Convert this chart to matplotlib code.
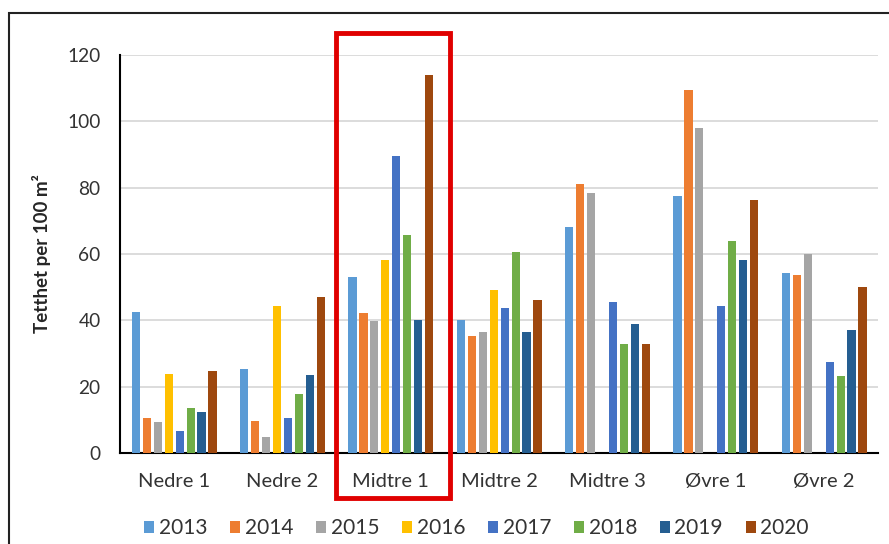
import numpy as np
import matplotlib
matplotlib.use('Agg')
import matplotlib.pyplot as plt
from matplotlib.patches import Rectangle
from matplotlib.transforms import blended_transform_factory

plt.rcParams['font.family'] = ['Lato', 'DejaVu Sans']

sites = ['Nedre 1', 'Nedre 2', 'Midtre 1', 'Midtre 2', 'Midtre 3', 'Øvre 1', 'Øvre 2']
years = ['2013', '2014', '2015', '2016', '2017', '2018', '2019', '2020']

# density per year, one value per site (nan = not sampled)
d2013 = [42.5, 25.5, 53.0, 40.0, 68.3, 77.5, 54.3]
d2014 = [10.5, 9.6, 42.1, 35.2, 81.0, 109.4, 53.8]
d2015 = [9.3, 4.9, 39.8, 36.4, 78.3, 97.9, 60.0]
d2016 = [23.8, 44.4, 58.2, 49.3, np.nan, np.nan, np.nan]
d2017 = [6.6, 10.6, 89.6, 43.6, 45.6, 44.4, 27.5]
d2018 = [13.7, 17.7, 65.8, 60.7, 33.0, 64.0, 23.3]
d2019 = [12.3, 23.5, 40.1, 36.4, 38.8, 58.2, 37.2]
d2020 = [24.7, 47.1, 114.0, 46.3, 33.0, 76.3, 50.0]

series = [d2013, d2014, d2015, d2016, d2017, d2018, d2019, d2020]
colors = ['#5B9BD5', '#ED7D31', '#A5A5A5', '#FFC000',
          '#4472C4', '#70AD47', '#255E91', '#9E480E']

fig = plt.figure(figsize=(8.89, 5.44), dpi=100)
ax = fig.add_axes([0.135, 0.167, 0.853, 0.732])

x = np.arange(len(sites))
slot = 0.101
width = 0.075
for i, (vals, yr) in enumerate(zip(series, years)):
    ax.bar(x + (i - 3.5) * slot, vals, width=width, color=colors[i],
           label=yr, zorder=3)

ax.set_xlim(-0.5, len(sites) - 0.5)
ax.set_ylim(0, 120)
ax.set_yticks(np.arange(0, 121, 20))
ax.set_xticks(x)
ax.set_xticklabels(sites)
ax.tick_params(axis='both', length=0, colors='#333333')
ax.tick_params(axis='x', pad=14, labelsize=14.5)
ax.tick_params(axis='y', pad=14, labelsize=13.8)

ax.grid(axis='y', color='#D9D9D9', linewidth=1.3, zorder=0)
for s in ['top', 'right']:
    ax.spines[s].set_visible(False)
ax.spines['left'].set_color('black')
ax.spines['bottom'].set_color('black')
ax.spines['left'].set_linewidth(1.5)
ax.spines['bottom'].set_linewidth(1.5)

ax.set_ylabel('Tetthet per 100 m²', fontsize=13.5, fontweight='bold',
              color='#262626', labelpad=12)

fig.legend(loc='center', bbox_to_anchor=(0.536, 0.029), ncol=8,
           frameon=False, fontsize=15, handlelength=0.5, handleheight=0.5,
           handletextpad=0.2, columnspacing=1.1, labelcolor='#333333')

# red highlight around Midtre 1
trans = blended_transform_factory(ax.transData, ax.transAxes)
ax.add_patch(Rectangle((1.49, -0.113), 1.06, 1.168, transform=trans,
                       fill=False, edgecolor='#E00000', linewidth=3.5,
                       clip_on=False, zorder=5))

# outer frame of the screenshot
fig.add_artist(Rectangle((9 / 889, -0.05), 1.1, 1 - 13 / 544 + 0.05,
                         transform=fig.transFigure, fill=False,
                         edgecolor='#222222', linewidth=1.5, clip_on=False))

fig.savefig('out.png', dpi=100)
